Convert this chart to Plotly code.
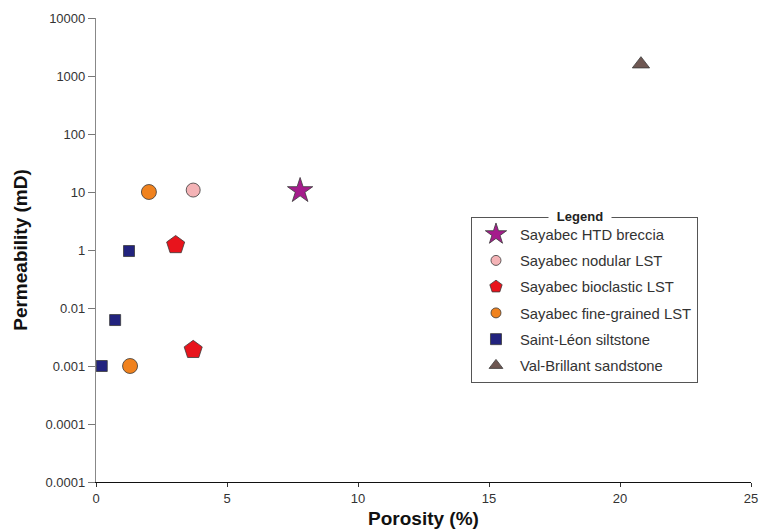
import plotly.graph_objects as go

# Data (y values in axis units; the axis labels below 1 are printed as in the source figure)
series_names = ["Sayabec HTD breccia", "Sayabec nodular LST", "Sayabec bioclastic LST",
                "Sayabec fine-grained LST", "Saint-Léon siltstone", "Val-Brillant sandstone"]
htd_x = [7.79]
htd_y = [10.5]
nod_x = [3.71]
nod_y = [10.8]
bio_x = [3.04, 3.71]
bio_y = [1.22, 0.019]
fine_x = [2.02, 1.30]
fine_y = [10.0, 0.01]
stl_x = [1.26, 0.73, 0.22]
stl_y = [0.96, 0.062, 0.01]
vb_x = [20.8]
vb_y = [1600]

y_tickvals = [1e4, 1e3, 1e2, 1e1, 1, 1e-1, 1e-2, 1e-3, 1e-4]
y_ticktext = ["10000", "1000", "100", "10", "1", "0.01", "0.001", "0.0001", "0.0001"]
x_tickvals = [0, 5, 10, 15, 20, 25]

# (symbol, plot size, legend size, colour)
styles = [
    ("star", 19, 17, "#A51C8C"),
    ("circle", 14, 10, "#F4B3B6"),
    ("pentagon", 19, 13, "#E8141C"),
    ("circle", 15, 10, "#F0821E"),
    ("square", 11, 11, "#22237E"),
    ("triangle-up", 15, 12, "#6E5752"),
]
data_x = [htd_x, nod_x, bio_x, fine_x, stl_x, vb_x]
data_y = [htd_y, nod_y, bio_y, fine_y, stl_y, vb_y]

fig = go.Figure()
for i, (sym, sz, lsz, col) in enumerate(styles):
    fig.add_trace(go.Scatter(
        x=data_x[i], y=data_y[i], mode="markers", name=series_names[i], showlegend=False,
        marker=dict(symbol=sym, size=sz, color=col, line=dict(color="#3a3a3a", width=0.8)),
    ))
for i, (sym, sz, lsz, col) in enumerate(styles):
    fig.add_trace(go.Scatter(
        x=[None], y=[None], mode="markers", name=series_names[i], legendgroup=f"g{i}",
        marker=dict(symbol=sym, size=lsz, color=col, line=dict(color="#3a3a3a", width=0.8)),
    ))

font = "Liberation Sans, Arial, sans-serif"
fig.update_layout(
    width=760, height=531,
    margin=dict(l=96, r=9, t=18, b=49),
    paper_bgcolor="white", plot_bgcolor="white",
    font=dict(family=font, size=12, color="#333"),
    showlegend=True,
    legend=dict(
        x=0.5725, y=0.571, xanchor="left", yanchor="top",
        bordercolor="#555", borderwidth=1, bgcolor="white",
        font=dict(family=font, size=14.8, color="#333"),
        tracegroupgap=4, itemwidth=38, traceorder="grouped",
    ),
    xaxis=dict(
        range=[0, 25], tickvals=x_tickvals, showgrid=False, zeroline=False,
        showline=True, linecolor="#111", linewidth=1.2, automargin=False,
        ticks="outside", ticklen=4, tickcolor="#333", ticklabeloverflow="allow",
        tickfont=dict(size=13, color="#333"),
        title=dict(text="<b>Porosity (%)</b>", font=dict(size=19, color="#111"), standoff=6),
    ),
    yaxis=dict(
        type="log", range=[-4, 4], tickvals=y_tickvals, ticktext=y_ticktext,
        showgrid=False, zeroline=False, automargin=False,
        showline=True, linecolor="#888", linewidth=1.2,
        ticks="outside", ticklen=7, tickcolor="#777", ticklabeloverflow="allow",
        tickfont=dict(size=13, color="#333"),
        title=dict(text="<b>Permeability (mD)</b>", font=dict(size=19, color="#111"), standoff=12),
    ),
)

fig.add_annotation(
    text="<b>Legend</b>", xref="paper", yref="paper", x=0.739, y=0.573,
    xanchor="center", yanchor="middle", showarrow=False, bgcolor="white",
    width=62, height=16, borderpad=0,
    font=dict(family=font, size=13, color="#222"),
)

fig.write_html("out.html")
